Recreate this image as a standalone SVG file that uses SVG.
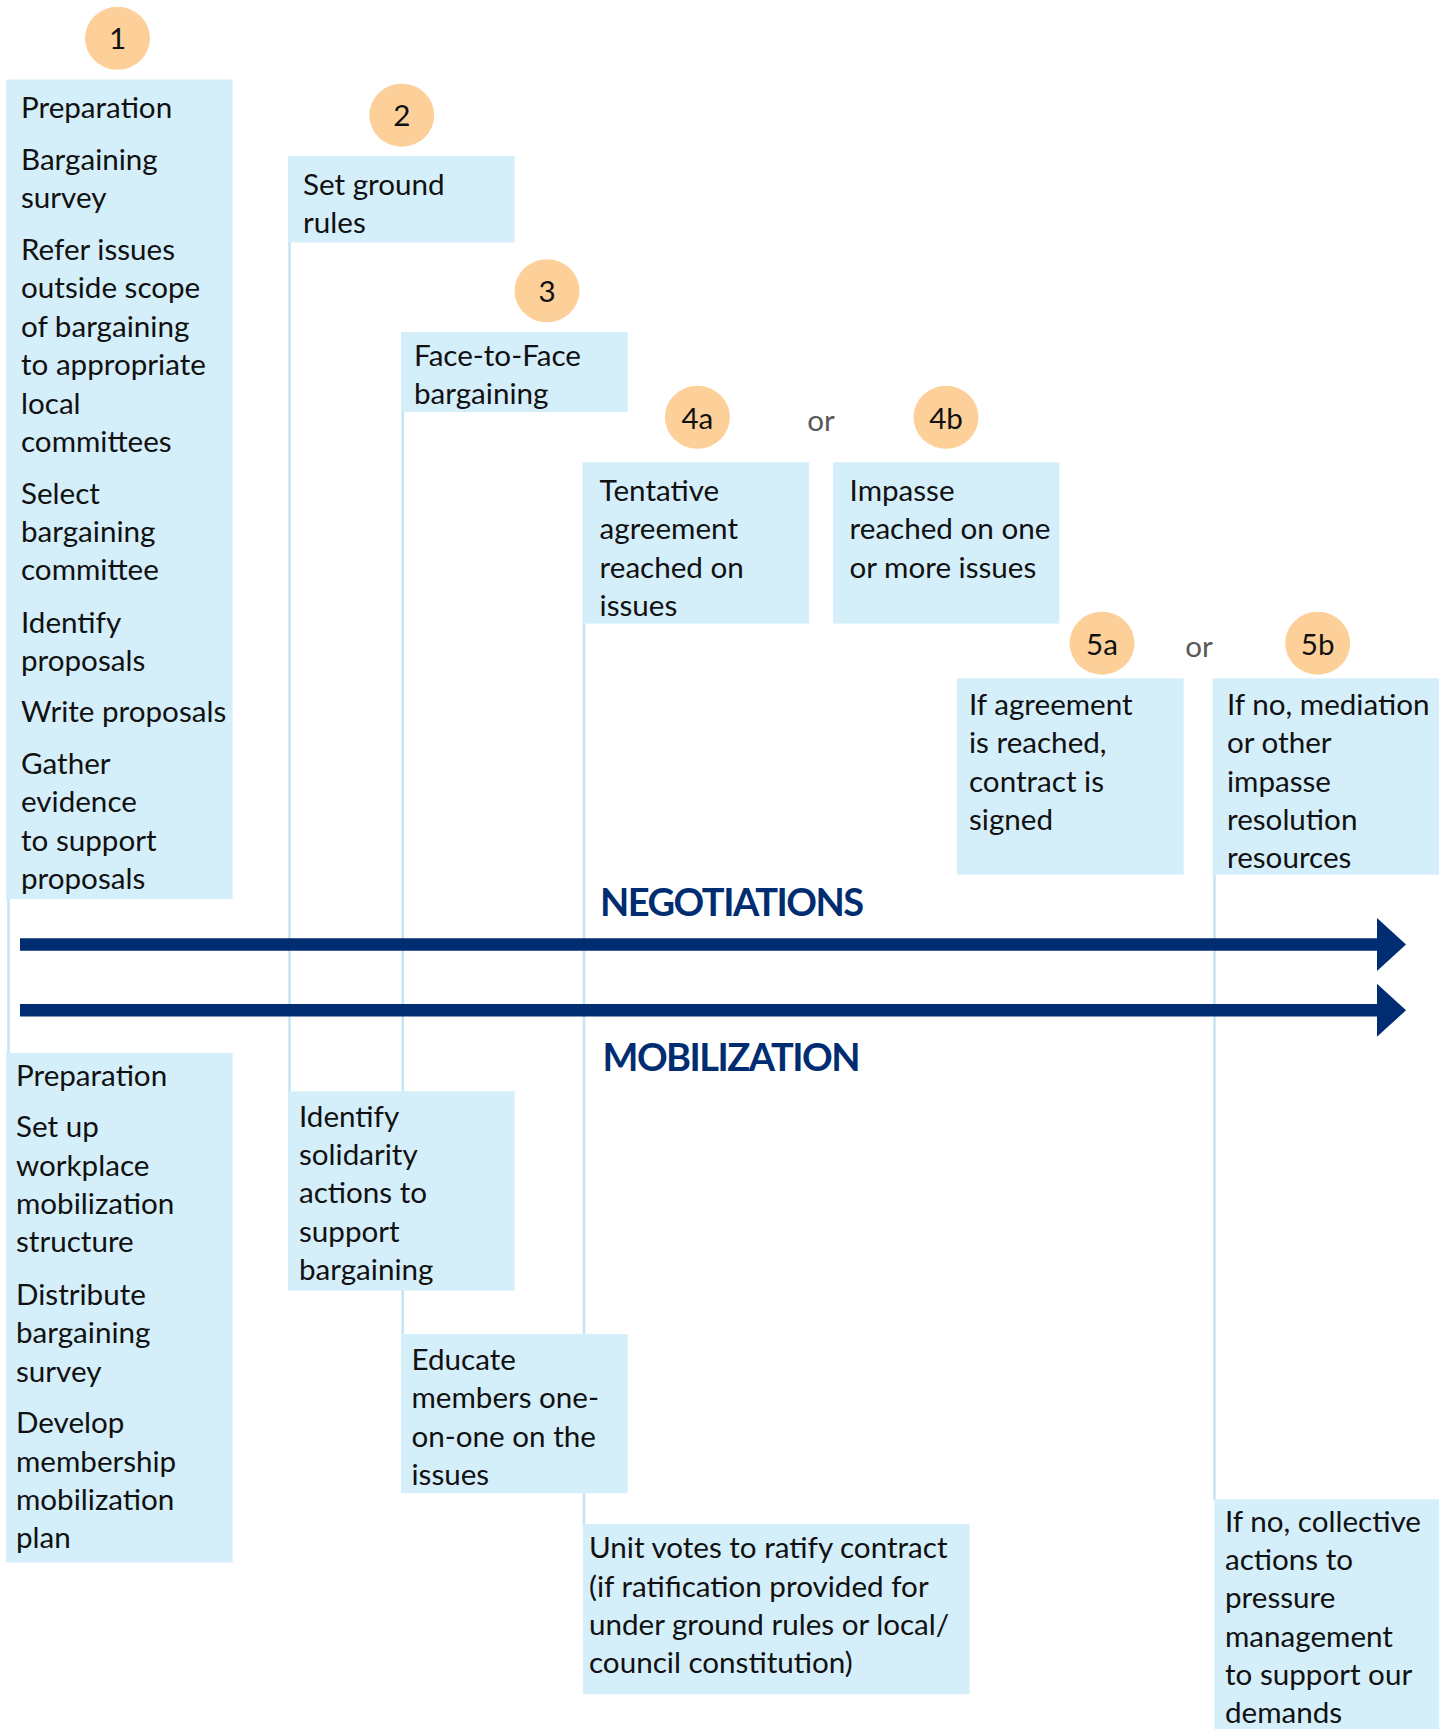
<svg xmlns="http://www.w3.org/2000/svg" width="1448" height="1729" viewBox="0 0 1448 1729">
<style>
.box{fill:#D4EEFA}
.t{font-family:Lato,"Open Sans","Liberation Sans",sans-serif;font-size:29.6px;fill:#111}
.num{fill:#FDD09A}
.nl{font-family:Lato,"Open Sans","Liberation Sans",sans-serif;font-size:29.6px;fill:#111;text-anchor:middle}
.or{font-family:Lato,"Open Sans","Liberation Sans",sans-serif;font-size:29.6px;fill:#595959;text-anchor:middle}
.conn{stroke:#C3E3F6;stroke-width:2.5;fill:none}
.arrow{fill:#002D72}
.head{font-family:Lato,"Open Sans","Liberation Sans",sans-serif;font-size:38px;font-weight:bold;fill:#002D72}
</style>
<defs>
<path id="arr" d="M20,-6.2 H1377 V-26.5 L1406,0 L1377,26.5 V6.2 H20 Z"/>
</defs>
<rect width="1448" height="1729" fill="#fff"/>
<g id="connectors">
<line class="conn" x1="8.5" y1="898" x2="8.5" y2="1054"/>
<line class="conn" x1="289.5" y1="242" x2="289.5" y2="1092"/>
<line class="conn" x1="402.7" y1="411" x2="402.7" y2="1335"/>
<line class="conn" x1="584" y1="623" x2="584" y2="1525"/>
<line class="conn" x1="1214.5" y1="874" x2="1214.5" y2="1500"/>
</g>
<g id="timeline">
<use href="#arr" class="arrow" transform="translate(0,944.5)"/>
<use href="#arr" class="arrow" transform="translate(0,1010.3)"/>
<text class="head" x="600" y="916" textLength="264">NEGOTIATIONS</text>
<text class="head" x="602.5" y="1071" textLength="258">MOBILIZATION</text>
</g>
<g id="step1">
<ellipse class="num" cx="117.5" cy="38.3" rx="32.5" ry="31.5"/>
<text class="nl" x="117.5" y="49">1</text>
</g>
<g id="step2">
<ellipse class="num" cx="401.8" cy="115.2" rx="32.5" ry="31.5"/>
<text class="nl" x="401.8" y="126">2</text>
</g>
<g id="step3">
<ellipse class="num" cx="547" cy="290.8" rx="32.5" ry="31.5"/>
<text class="nl" x="547" y="301.5">3</text>
</g>
<g id="step4a">
<ellipse class="num" cx="697.4" cy="417.3" rx="32.5" ry="31.5"/>
<text class="nl" x="697.4" y="428.5">4a</text>
</g>
<text class="or" x="821" y="430.5">or</text>
<g id="step4b">
<ellipse class="num" cx="946" cy="417.3" rx="32.5" ry="31.5"/>
<text class="nl" x="946" y="428.5">4b</text>
</g>
<g id="step5a">
<ellipse class="num" cx="1102" cy="643.2" rx="32.5" ry="31.5"/>
<text class="nl" x="1102" y="654.5">5a</text>
</g>
<text class="or" x="1199" y="656.5">or</text>
<g id="step5b">
<ellipse class="num" cx="1317.7" cy="643.2" rx="32.5" ry="31.5"/>
<text class="nl" x="1317.7" y="654.5">5b</text>
</g>
<g id="neg1">
<rect class="box" x="6" y="79.5" width="226.7" height="819.5"/>
<text class="t">
<tspan x="21" y="118.3">Preparation</tspan>
<tspan x="21" y="170">Bargaining</tspan>
<tspan x="21" y="208.4">survey</tspan>
<tspan x="21" y="260">Refer issues</tspan>
<tspan x="21" y="298.4">outside scope</tspan>
<tspan x="21" y="336.8">of bargaining</tspan>
<tspan x="21" y="375.2">to appropriate</tspan>
<tspan x="21" y="413.6">local</tspan>
<tspan x="21" y="452">committees</tspan>
<tspan x="21" y="503.6">Select</tspan>
<tspan x="21" y="542">bargaining</tspan>
<tspan x="21" y="580.4">committee</tspan>
<tspan x="21" y="632.5">Identify</tspan>
<tspan x="21" y="670.7">proposals</tspan>
<tspan x="21" y="722.3">Write proposals</tspan>
<tspan x="21" y="774">Gather</tspan>
<tspan x="21" y="812.3">evidence</tspan>
<tspan x="21" y="850.6">to support</tspan>
<tspan x="21" y="889">proposals</tspan>
</text>
</g>
<g id="neg2">
<rect class="box" x="288" y="156" width="226.7" height="86.5"/>
<text class="t">
<tspan x="303" y="195">Set ground</tspan>
<tspan x="303" y="233">rules</tspan>
</text>
</g>
<g id="neg3">
<rect class="box" x="401" y="332" width="226.7" height="80"/>
<text class="t">
<tspan x="414" y="365.7">Face-to-Face</tspan>
<tspan x="414" y="404">bargaining</tspan>
</text>
</g>
<g id="neg4a">
<rect class="box" x="582.5" y="462.3" width="226.5" height="161.3"/>
<text class="t">
<tspan x="599.6" y="501">Tentative</tspan>
<tspan x="599.6" y="539.3">agreement</tspan>
<tspan x="599.6" y="577.6">reached on</tspan>
<tspan x="599.6" y="615.9">issues</tspan>
</text>
</g>
<g id="neg4b">
<rect class="box" x="833" y="462.3" width="226.5" height="161.3"/>
<text class="t">
<tspan x="849.6" y="501">Impasse</tspan>
<tspan x="849.6" y="539.3">reached on one</tspan>
<tspan x="849.6" y="577.6">or more issues</tspan>
</text>
</g>
<g id="neg5a">
<rect class="box" x="957" y="678.3" width="226.7" height="196.4"/>
<text class="t">
<tspan x="969" y="715">If agreement</tspan>
<tspan x="969" y="753.3">is reached,</tspan>
<tspan x="969" y="791.6">contract is</tspan>
<tspan x="969" y="830">signed</tspan>
</text>
</g>
<g id="neg5b">
<rect class="box" x="1212.5" y="678.3" width="226.5" height="196.4"/>
<text class="t">
<tspan x="1227" y="715">If no, mediation</tspan>
<tspan x="1227" y="753.3">or other</tspan>
<tspan x="1227" y="791.6">impasse</tspan>
<tspan x="1227" y="830">resolution</tspan>
<tspan x="1227" y="868.3">resources</tspan>
</text>
</g>
<g id="mob1">
<rect class="box" x="6" y="1053" width="226.7" height="509.5"/>
<text class="t">
<tspan x="16" y="1086">Preparation</tspan>
<tspan x="16" y="1137.3">Set up</tspan>
<tspan x="16" y="1175.7">workplace</tspan>
<tspan x="16" y="1214">mobilization</tspan>
<tspan x="16" y="1252.3">structure</tspan>
<tspan x="16" y="1305">Distribute</tspan>
<tspan x="16" y="1343.3">bargaining</tspan>
<tspan x="16" y="1381.5">survey</tspan>
<tspan x="16" y="1433.3">Develop</tspan>
<tspan x="16" y="1471.7">membership</tspan>
<tspan x="16" y="1510">mobilization</tspan>
<tspan x="16" y="1548.3">plan</tspan>
</text>
</g>
<g id="mob2">
<rect class="box" x="288" y="1091.3" width="226.7" height="199.4"/>
<text class="t">
<tspan x="299" y="1126.7">Identify</tspan>
<tspan x="299" y="1165">solidarity</tspan>
<tspan x="299" y="1203.3">actions to</tspan>
<tspan x="299" y="1241.6">support</tspan>
<tspan x="299" y="1280">bargaining</tspan>
</text>
</g>
<g id="mob3">
<rect class="box" x="401" y="1334" width="226.7" height="159.3"/>
<text class="t">
<tspan x="411.5" y="1370">Educate</tspan>
<tspan x="411.5" y="1408.3">members one-</tspan>
<tspan x="411.5" y="1446.7">on-one on the</tspan>
<tspan x="411.5" y="1485">issues</tspan>
</text>
</g>
<g id="mob4">
<rect class="box" x="583" y="1524" width="386.6" height="170.3"/>
<text class="t">
<tspan x="589" y="1558.3">Unit votes to ratify contract</tspan>
<tspan x="589" y="1596.7">(if ratification provided for</tspan>
<tspan x="589" y="1635">under ground rules or local/</tspan>
<tspan x="589" y="1673.3">council constitution)</tspan>
</text>
</g>
<g id="mob5">
<rect class="box" x="1214.5" y="1499.3" width="224.7" height="230"/>
<text class="t">
<tspan x="1225" y="1531.7">If no, collective</tspan>
<tspan x="1225" y="1570">actions to</tspan>
<tspan x="1225" y="1608.3">pressure</tspan>
<tspan x="1225" y="1646.7">management</tspan>
<tspan x="1225" y="1685">to support our</tspan>
<tspan x="1225" y="1723.3">demands</tspan>
</text>
</g>
</svg>
